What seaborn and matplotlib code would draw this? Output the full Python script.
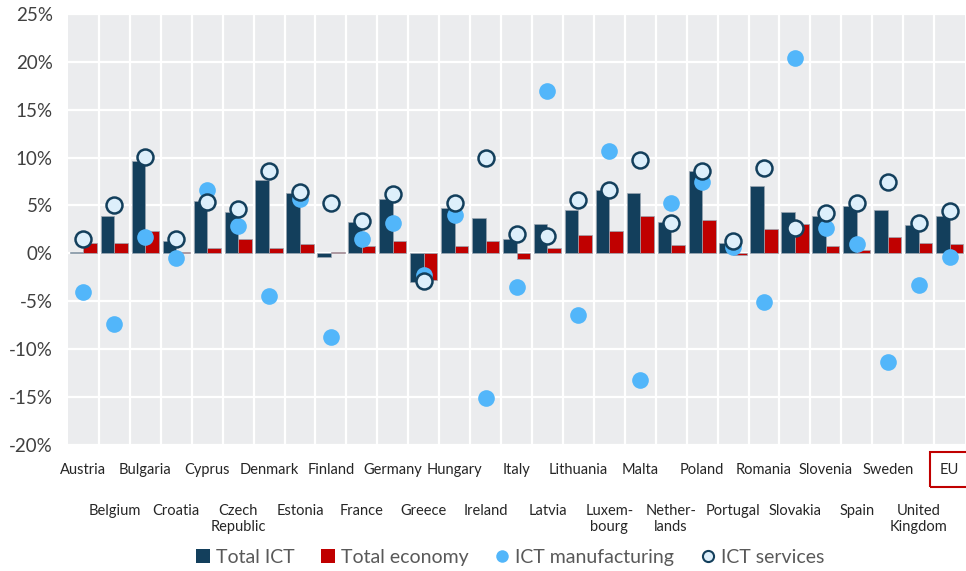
import pandas as pd
import numpy as np
import matplotlib
matplotlib.use("Agg")
import matplotlib.pyplot as plt
import seaborn as sns
from matplotlib.lines import Line2D
from matplotlib.patches import Patch

# Dados (variação anual, %)
paises = ['Austria', 'Belgium', 'Bulgaria', 'Croatia', 'Cyprus', 'Czech Republic',
          'Denmark', 'Estonia', 'Finland', 'France', 'Germany', 'Greece', 'Hungary',
          'Ireland', 'Italy', 'Latvia', 'Lithuania', 'Luxembourg', 'Malta',
          'Netherlands', 'Poland', 'Portugal', 'Romania', 'Slovakia', 'Slovenia',
          'Spain', 'Sweden', 'United Kingdom', 'EU']
rotulos = ['Austria', 'Belgium', 'Bulgaria', 'Croatia', 'Cyprus', 'Czech\nRepublic',
           'Denmark', 'Estonia', 'Finland', 'France', 'Germany', 'Greece', 'Hungary',
           'Ireland', 'Italy', 'Latvia', 'Lithuania', 'Luxem-\nbourg', 'Malta',
           'Nether-\nlands', 'Poland', 'Portugal', 'Romania', 'Slovakia', 'Slovenia',
           'Spain', 'Sweden', 'United\nKingdom', 'EU']
total_ict = [0.1, 3.9, 9.6, 1.3, 5.5, 4.3, 7.7, 6.3, -0.4, 3.3, 5.7, -3.0, 4.7, 3.7, 1.5,
             3.1, 4.5, 6.6, 6.25, 3.3, 8.6, 1.1, 7.0, 4.3, 3.85, 4.9, 4.5, 2.9, 3.9]
total_economy = [1.1, 1.1, 2.3, 0.1, 0.5, 1.5, 0.5, 1.0, 0.1, 0.75, 1.3, -2.8, 0.7, 1.3,
                 -0.6, 0.55, 1.9, 2.3, 3.9, 0.9, 3.5, -0.2, 2.5, 3.1, 0.75, 0.35, 1.7,
                 1.1, 1.0]
ict_manufacturing = [-4.1, -7.4, 1.7, -0.5, 6.6, 2.8, -4.5, 5.7, -8.8, 1.5, 3.2, -2.25,
                     4.0, -15.1, -3.5, 17.0, -6.5, 10.7, -13.3, 5.2, 7.4, 0.6, -5.1,
                     20.4, 2.6, 1.0, -11.4, -3.3, -0.4]
ict_services = [1.5, 5.0, 10.1, 1.5, 5.4, 4.6, 8.6, 6.4, 5.2, 3.4, 6.2, -2.9, 5.25, 9.9,
                2.0, 1.8, 5.6, 6.6, 9.7, 3.2, 8.55, 1.3, 8.9, 2.6, 4.2, 5.2, 7.4, 3.2, 4.4]

n = len(paises)
df = pd.DataFrame({
    'pais': paises * 2,
    'serie': ['Total ICT'] * n + ['Total economy'] * n,
    'valor': total_ict + total_economy,
})

azul = '#133F5C'
vermelho = '#C00000'
azul_claro = '#52B6FA'
cinza_texto = '#404040'

sns.set_style('white')
plt.rcParams['font.family'] = ['Lato', 'DejaVu Sans']

fig, ax = plt.subplots(figsize=(9.66, 5.71), dpi=100)
fig.subplots_adjust(left=0.0704, right=0.999, top=0.9755, bottom=0.2215)
ax.set_facecolor('#EBECEE')

sns.barplot(data=df, x='pais', y='valor', hue='serie', order=paises,
            palette=[azul, vermelho], saturation=1, width=0.88, legend=False,
            edgecolor='#9aa6b2', linewidth=0.5, ax=ax)
sns.stripplot(x=paises, y=ict_manufacturing, order=paises, jitter=False,
              color=azul_claro, size=12, linewidth=0, zorder=3, ax=ax)
sns.stripplot(x=paises, y=ict_services, order=paises, jitter=False,
              color='#DDEFFB', edgecolor=azul, linewidth=1.8, size=11.5,
              zorder=4, ax=ax)

# grade branca
ax.set_axisbelow(True)
ax.yaxis.grid(True, color='white', linewidth=1.6)
ax.xaxis.grid(False)
for i in range(n - 1):
    ax.axvline(i + 0.5, color='white', linewidth=1.6, zorder=0.6)

ax.set_ylim(-20, 25)
ax.set_xlim(-0.5, n - 0.5)
ax.set_yticks(range(-20, 30, 5))
ax.set_yticklabels([f'{v}%' for v in range(-20, 30, 5)])
ax.tick_params(axis='y', length=0, pad=11, labelsize=13.5, labelcolor=cinza_texto)

# rótulos alternados em duas linhas
pos = np.arange(n)
ax.set_xticks(pos[::2])
ax.set_xticklabels(rotulos[::2])
ax.set_xticks(pos[1::2], minor=True)
ax.set_xticklabels(rotulos[1::2], minor=True)
ax.tick_params(axis='x', which='major', length=0, pad=13, labelsize=10.5,
               labelcolor='#262626')
ax.tick_params(axis='x', which='minor', length=33, width=1.6, color='#1F4E79',
               pad=10, labelsize=10.5, labelcolor='#262626')
for lbl in ax.get_xticklabels(which='major'):
    if lbl.get_text() == 'EU':
        lbl.set_bbox(dict(boxstyle='square,pad=0.7', facecolor='none',
                          edgecolor=vermelho, linewidth=1.5))

ax.set_xlabel('')
ax.set_ylabel('')
sns.despine(ax=ax, left=True, bottom=True)

handles = [
    Patch(facecolor=azul, edgecolor='none'),
    Patch(facecolor=vermelho, edgecolor='none'),
    Line2D([], [], marker='o', linestyle='none', markersize=9,
           markerfacecolor=azul_claro, markeredgecolor='none'),
    Line2D([], [], marker='o', linestyle='none', markersize=8,
           markerfacecolor='#DDEFFB', markeredgecolor=azul, markeredgewidth=1.5),
]
leg = fig.legend(handles, ['Total ICT', 'Total economy', 'ICT manufacturing', 'ICT services'],
                 loc='lower center', bbox_to_anchor=(0.528, -0.022), ncol=4,
                 frameon=False, fontsize=14, handlelength=0.7, handleheight=0.7,
                 handletextpad=0.3, columnspacing=1.4)
for t in leg.get_texts():
    t.set_color('#595959')

plt.savefig('out.png', dpi=100)
